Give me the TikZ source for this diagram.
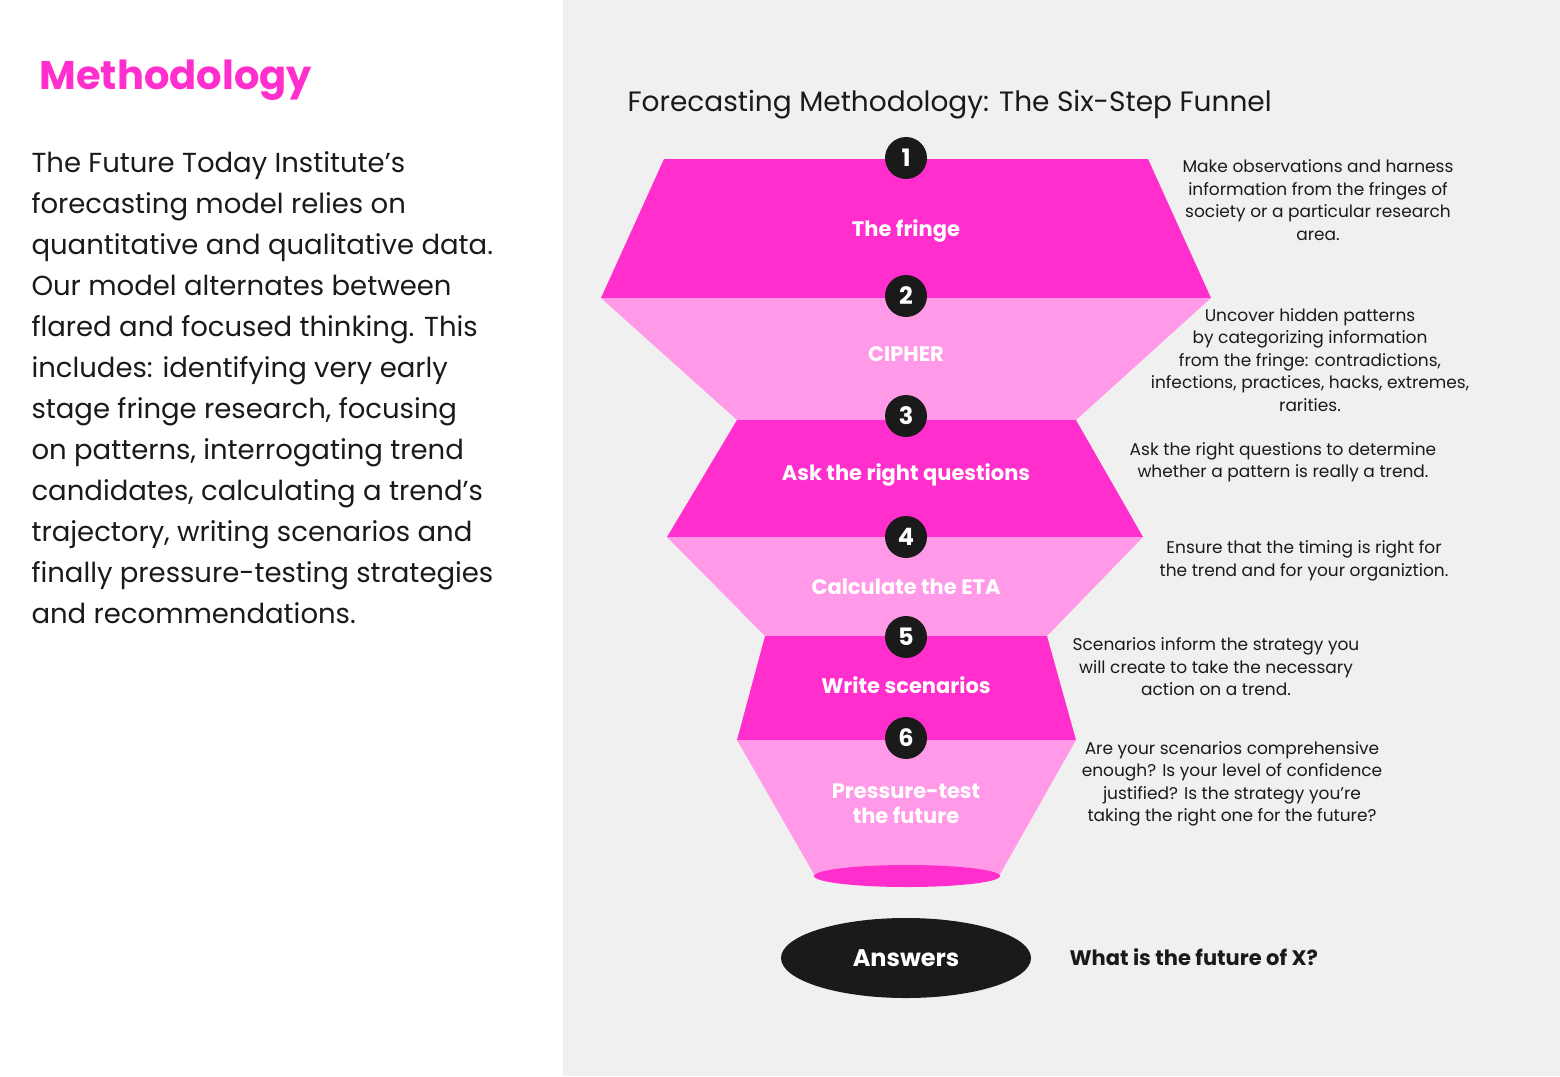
\documentclass[tikz,border=0pt]{standalone}
\usepackage{fontspec}
\setmainfont{Poppins}
\usetikzlibrary{shapes.geometric}
\definecolor{hotpink}{HTML}{FF2ECC}
\definecolor{softpink}{HTML}{FF99E8}
\definecolor{panelgray}{HTML}{F1F0F0}
\definecolor{inkblack}{HTML}{1A1A1A}
\tikzset{
  steplabel/.style={text=white,font=\fontsize{21}{25}\selectfont\bfseries,align=center},
  stepnum/.style={circle,fill=inkblack,minimum size=42pt,inner sep=0pt,text=white,font=\fontsize{24}{28}\selectfont\bfseries},
  stepnote/.style={font=\fontsize{17}{22.5}\selectfont,align=center,text=inkblack}
}
\begin{document}
\begin{tikzpicture}[x=1pt,y=-1pt]
        % Background panels
        \fill[white] (0,0) rectangle (1560,1076);
        \fill[panelgray] (563,0) rectangle (1560,1076);
        % Left column
        \node[anchor=west,text=hotpink,font=\fontsize{40}{48}\selectfont\bfseries] (heading) at (36,80) {Methodology};
        \node[anchor=north west,align=left,text=inkblack,font=\fontsize{27.5}{41}\selectfont] (intro) at (28,148) {The Future Today Institute’s\\forecasting model relies on\\quantitative and qualitative data.\\Our model alternates between\\flared and focused thinking. This\\includes: identifying very early\\stage fringe research, focusing\\on patterns, interrogating trend\\candidates, calculating a trend’s\\trajectory, writing scenarios and\\finally pressure-testing strategies\\and recommendations.};
        \node[anchor=west,text=inkblack,font=\fontsize{28}{32}\selectfont] (title) at (624,105) {Forecasting Methodology: The Six-Step Funnel};
        % Funnel segments
        \fill[hotpink] (664,159) -- (1148,159) -- (1211,298) -- (601,298) -- cycle;
        \fill[softpink] (601,298) -- (1211,298) -- (1076,420) -- (737,420) -- cycle;
        \fill[hotpink] (737,420) -- (1076,420) -- (1143,537) -- (667,537) -- cycle;
        \fill[softpink] (667,537) -- (1143,537) -- (1047,636) -- (765,636) -- cycle;
        \fill[hotpink] (765,636) -- (1047,636) -- (1076,740) -- (737,740) -- cycle;
        \fill[softpink] (737,740) -- (1076,740) -- (999,876) -- (815,876) -- cycle;
        \fill[hotpink] (907,876) ellipse (93 and 11);
        % Step labels
        \node[steplabel] (fringe) at (906,231) {The fringe};
        \node[steplabel] (cipher) at (906,354) {CIPHER};
        \node[steplabel] (ask) at (906,475) {Ask the right questions};
        \node[steplabel] (eta) at (906,587) {Calculate the ETA};
        \node[steplabel] (write) at (906,685) {Write scenarios};
        \node[steplabel] (pressure) at (906,804) {Pressure-test\\the future};
        % Step numbers
        \foreach \n/\y in {1/158,2/296,3/416,4/537,5/637,6/738}
            \node[stepnum] (num\n) at (906,\y) {\n};
        % Step notes
        \node[stepnote] (note1) at (1318,200) {Make observations and harness\\information from the fringes of\\society or a particular research\\area.};
        \node[stepnote] (note2) at (1310,360) {Uncover hidden patterns\\by categorizing information\\from the fringe: contradictions,\\infections, practices, hacks, extremes,\\rarities.};
        \node[stepnote] (note3) at (1283,462) {Ask the right questions to determine\\whether a pattern is really a trend.};
        \node[stepnote] (note4) at (1304,561) {Ensure that the timing is right for\\the trend and for your organiztion.};
        \node[stepnote] (note5) at (1216,667) {Scenarios inform the strategy you\\will create to take the necessary\\action on a trend.};
        \node[stepnote] (note6) at (1232,784) {Are your scenarios comprehensive\\enough? Is your level of confidence\\justified? Is the strategy you’re\\taking the right one for the future?};
        % Answers
        \node[ellipse,fill=inkblack,minimum width=250pt,minimum height=80pt,text=white,font=\fontsize{24}{28}\selectfont\bfseries] (answers) at (906,958) {Answers};
        \node[anchor=west,text=inkblack,font=\fontsize{21}{25}\selectfont\bfseries] (question) at (1066,957) {What is the future of X?};
\end{tikzpicture}
\end{document}
